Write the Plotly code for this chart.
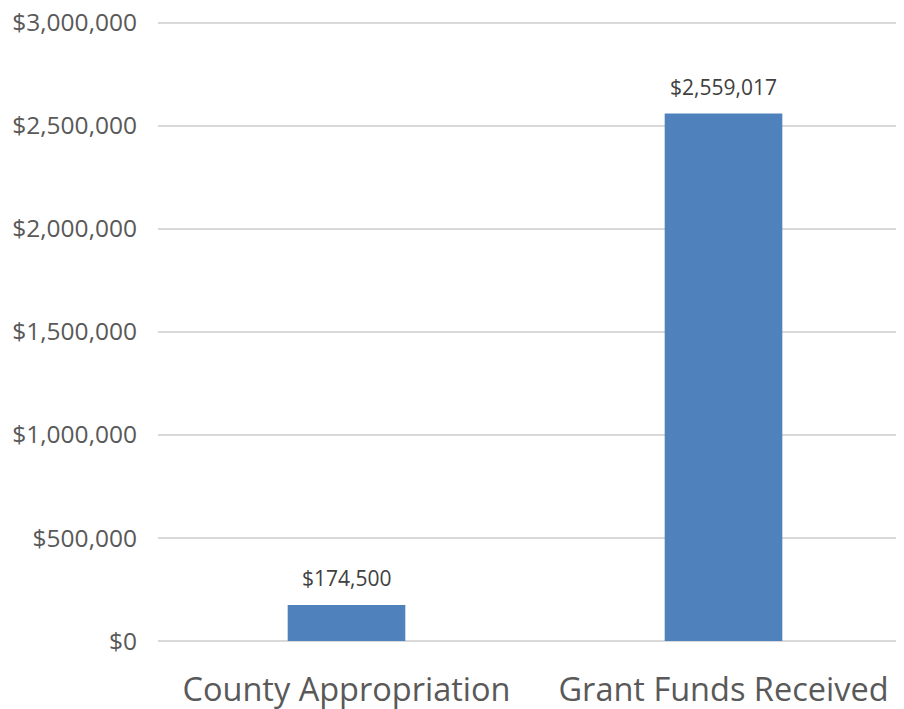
import plotly.graph_objects as go

categories = ["County Appropriation", "Grant Funds Received"]
values = [174500, 2559017]
tick_vals = [0, 500000, 1000000, 1500000, 2000000, 2500000, 3000000]
tick_text = ["$0", "$500,000", "$1,000,000", "$1,500,000", "$2,000,000", "$2,500,000", "$3,000,000"]

fig = go.Figure()
fig.add_trace(go.Bar(
    x=categories, y=values,
    marker=dict(color="#4F81BD", line=dict(width=0)),
    width=0.312,
    hoverinfo="skip",
))

for c, v in zip(categories, values):
    fig.add_annotation(
        x=c, y=v, text=f"${v:,.0f}", showarrow=False,
        yanchor="bottom", yshift=11,
        font=dict(family="Open Sans", size=21, color="#404040"),
    )

fig.update_layout(
    width=904, height=709,
    margin=dict(l=150, r=0, t=13, b=76),
    paper_bgcolor="white", plot_bgcolor="white",
    showlegend=False,
    font=dict(family="Open Sans", color="#595959"),
)
fig.update_xaxes(
    showgrid=False, showline=False, zeroline=False, automargin=False,
    tickfont=dict(family="Open Sans", size=32.5, color="#595959"),
    ticks="", ticklabelstandoff=26,
)
fig.update_yaxes(
    range=[0, 3008000], tickvals=tick_vals, ticktext=tick_text,
    showgrid=True, gridcolor="#D9D9D9", gridwidth=1.5,
    zeroline=True, zerolinecolor="#D9D9D9", zerolinewidth=1.5,
    showline=False, ticks="", automargin=False,
    ticklabeloverflow="allow",
    tickfont=dict(family="Open Sans", size=24.5, color="#595959"),
    ticklabelstandoff=20,
)

fig.write_html("out.html")
